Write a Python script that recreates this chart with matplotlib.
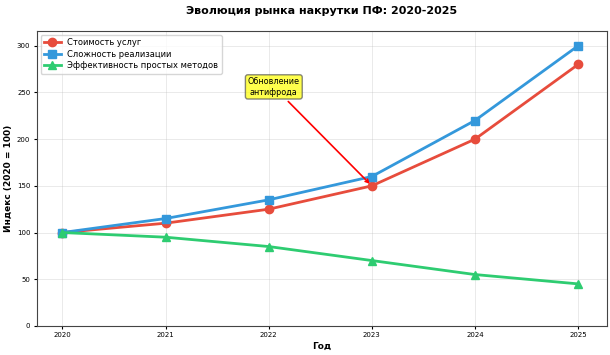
import matplotlib
matplotlib.use("Agg")
import matplotlib.pyplot as plt

years = [2020, 2021, 2022, 2023, 2024, 2025]
cost = [100, 110, 125, 150, 200, 280]
complexity = [100, 115, 135, 160, 220, 300]
efficiency = [100, 95, 85, 70, 55, 45]
labels = ["Стоимость услуг", "Сложность реализации", "Эффективность простых методов"]

plt.rcParams['font.family'] = ['DejaVu Sans']
fig, ax = plt.subplots(figsize=(6.1, 3.55), dpi=100)
ax.plot(years, cost, marker='o', color='#e74c3c', lw=2, ms=6, label=labels[0])
ax.plot(years, complexity, marker='s', color='#3498db', lw=2, ms=6, label=labels[1])
ax.plot(years, efficiency, marker='^', color='#2ecc71', lw=2, ms=6, label=labels[2])

ax.set_ylim(0, 316)
ax.set_xlim(2019.75, 2025.28)
ax.set_xticks(years)
ax.tick_params(labelsize=5, length=2.5, pad=2)
ax.grid(True, alpha=0.3, lw=0.6)
ax.set_title("Эволюция рынка накрутки ПФ: 2020-2025", fontsize=8, fontweight='bold', pad=12)
ax.set_xlabel("Год", fontsize=6.5, fontweight='bold', labelpad=3)
ax.set_ylabel("Индекс (2020 = 100)", fontsize=6.5, fontweight='bold', labelpad=3)
ax.legend(loc='upper left', fontsize=6, borderpad=0.4, labelspacing=0.3)
ax.annotate("Обновление\nантифрода", xy=(2023, 150), xytext=(2022.05, 256),
            fontsize=5.8, ha='center', va='center',
            bbox=dict(boxstyle='round,pad=0.3', fc='yellow', ec='#555555', alpha=0.7),
            arrowprops=dict(arrowstyle='->', color='red', lw=1.2))
for s in ax.spines.values():
    s.set_color('#444444')
fig.subplots_adjust(left=0.06, right=0.995, top=0.913, bottom=0.082)
fig.savefig("out.png", dpi=100)
